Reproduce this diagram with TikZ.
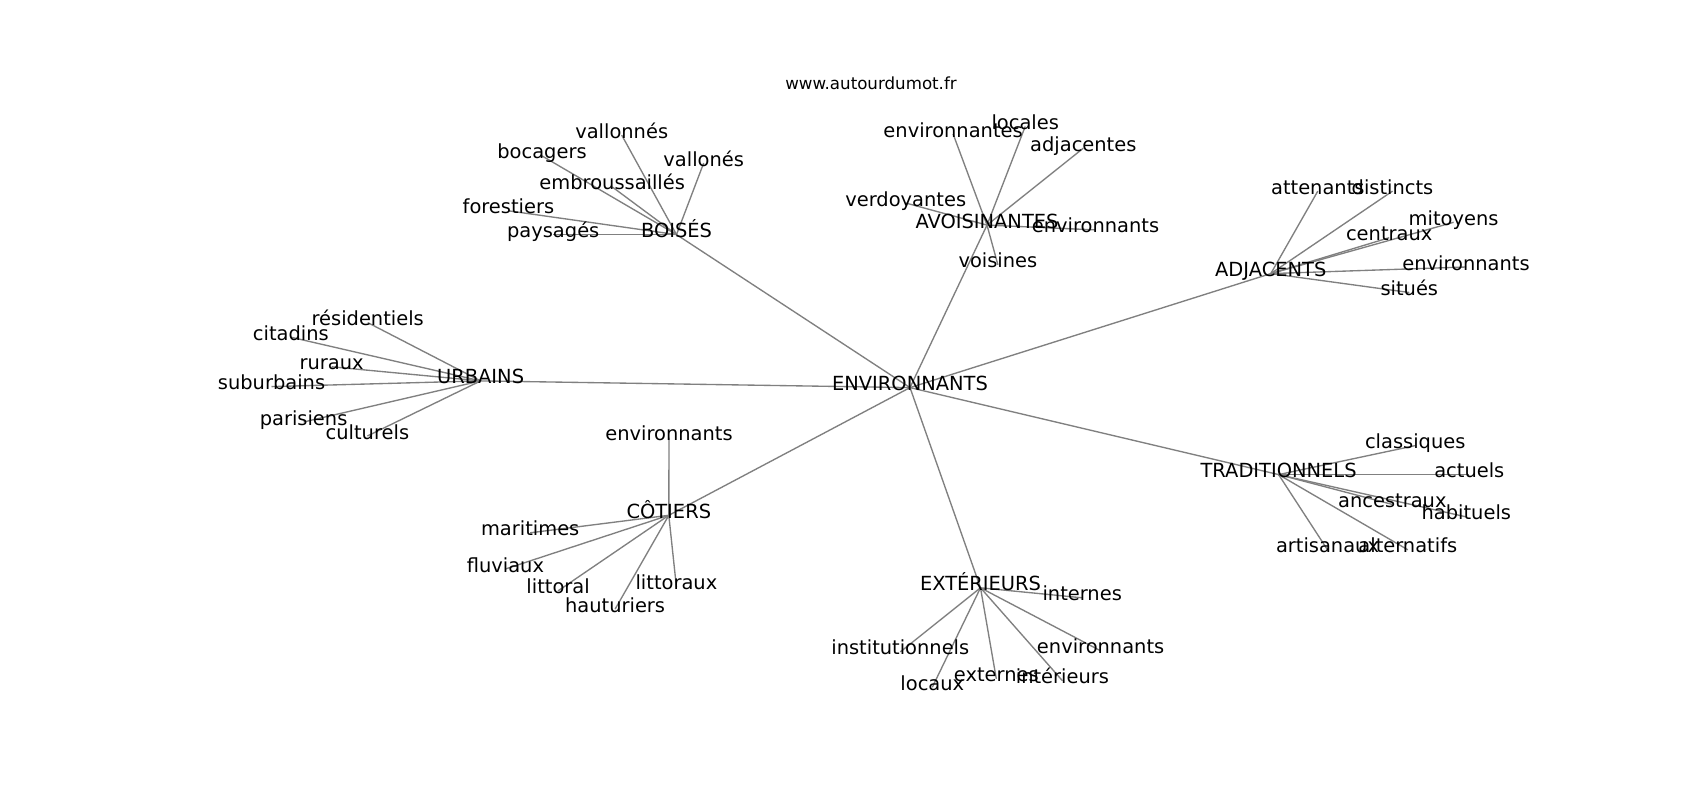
\documentclass[tikz,border=0pt]{standalone}
\usepackage{fontspec}
\setmainfont{DejaVu Sans}
\usetikzlibrary{backgrounds}
\begin{document}
\begin{tikzpicture}[x=1pt,y=-1pt,
  lbl/.style={inner sep=0pt, anchor=center, text height=0.8em, text depth=0.2em, font=\fontsize{19.44}{23}\selectfont},
  ttl/.style={inner sep=0pt, anchor=center, text height=0.8em, text depth=0.2em, font=\fontsize{16.67}{20}\selectfont},
  edge/.style={draw=gray, line width=1.35pt}]
\useasboundingbox (0,0) rectangle (1700,800);
\begin{scope}[yshift=-3.6pt]
\node[ttl] (title) at (871,82.5) {www.autourdumot.fr};
% hubs
\node[lbl] (env) at (910,384) {ENVIRONNANTS};
\node[lbl] (boi) at (676.5,231) {BOISÉS};
\node[lbl] (avo) at (987,221.5) {AVOISINANTES};
\node[lbl] (adj) at (1270.8,270) {ADJACENTS};
\node[lbl] (urb) at (480.6,377.3) {URBAINS};
\node[lbl] (tra) at (1278.6,471) {TRADITIONNELS};
\node[lbl] (cot) at (668.8,511.7) {CÔTIERS};
\node[lbl] (ext) at (980.5,584.2) {EXTÉRIEURS};
% BOISES leaves
\node[lbl] (b1) at (621.7,131.5) {vallonnés};
\node[lbl] (b2) at (542,152.3) {bocagers};
\node[lbl] (b3) at (703.7,159.4) {vallonés};
\node[lbl] (b4) at (612.2,183.3) {embroussaillés};
\node[lbl] (b5) at (508.4,207.2) {forestiers};
\node[lbl] (b6) at (553.2,231) {paysagés};
% AVOISINANTES leaves
\node[lbl] (a1) at (953.1,130.4) {environnantes};
\node[lbl] (a2) at (1025.2,122.9) {locales};
\node[lbl] (a3) at (1083.3,144.6) {adjacentes};
\node[lbl] (a4) at (905.7,199.4) {verdoyantes};
\node[lbl] (a5) at (1095.5,226.3) {environnants};
\node[lbl] (a6) at (997.9,261.2) {voisines};
% ADJACENTS leaves
\node[lbl] (d1) at (1317.8,187.5) {attenants};
\node[lbl] (d2) at (1392.5,187.5) {distincts};
\node[lbl] (d3) at (1453.6,218.7) {mitoyens};
\node[lbl] (d4) at (1389.2,234.1) {centraux};
\node[lbl] (d5) at (1466,263.4) {environnants};
\node[lbl] (d6) at (1409.3,288.9) {situés};
% URBAINS leaves
\node[lbl] (u1) at (367.7,319) {résidentiels};
\node[lbl] (u2) at (290.9,333.6) {citadins};
\node[lbl] (u3) at (331.7,363.2) {ruraux};
\node[lbl] (u4) at (271.5,383) {suburbains};
\node[lbl] (u5) at (303.6,418.4) {parisiens};
\node[lbl] (u6) at (367.4,432.4) {culturels};
% TRADITIONNELS leaves
\node[lbl] (t1) at (1415.2,442) {classiques};
\node[lbl] (t2) at (1469.3,471) {actuels};
\node[lbl] (t3) at (1392.3,500.8) {ancestraux};
\node[lbl] (t4) at (1466.3,513.3) {habituels};
\node[lbl] (t5) at (1327.5,546.2) {artisanaux};
\node[lbl] (t6) at (1407.8,546.2) {alternatifs};
% COTIERS leaves
\node[lbl] (c1) at (669,434) {environnants};
\node[lbl] (c2) at (530.2,529.2) {maritimes};
\node[lbl] (c3) at (505.4,565.4) {fluviaux};
\node[lbl] (c4) at (558.1,587.2) {littoral};
\node[lbl] (c5) at (615.1,605.5) {hauturiers};
\node[lbl] (c6) at (676.4,583.3) {littoraux};
% EXTERIEURS leaves
\node[lbl] (e1) at (1082.2,594.2) {internes};
\node[lbl] (e2) at (900.3,648.3) {institutionnels};
\node[lbl] (e3) at (1100.6,647.2) {environnants};
\node[lbl] (e4) at (932.3,683.6) {locaux};
\node[lbl] (e5) at (996.3,675.2) {externes};
\node[lbl] (e6) at (1062.4,677.1) {intérieurs};
\end{scope}
\begin{pgfonlayer}{background}
\fill[white] (0,0) rectangle (1700,800);
\foreach \h in {boi,avo,adj,urb,tra,cot,ext} \draw[edge] (env.center) -- (\h.center);
\foreach \l in {b1,b2,b3,b4,b5,b6} \draw[edge] (boi.center) -- (\l.center);
\foreach \l in {a1,a2,a3,a4,a5,a6} \draw[edge] (avo.center) -- (\l.center);
\foreach \l in {d1,d2,d3,d4,d5,d6} \draw[edge] (adj.center) -- (\l.center);
\foreach \l in {u1,u2,u3,u4,u5,u6} \draw[edge] (urb.center) -- (\l.center);
\foreach \l in {t1,t2,t3,t4,t5,t6} \draw[edge] (tra.center) -- (\l.center);
\foreach \l in {c1,c2,c3,c4,c5,c6} \draw[edge] (cot.center) -- (\l.center);
\foreach \l in {e1,e2,e3,e4,e5,e6} \draw[edge] (ext.center) -- (\l.center);
\end{pgfonlayer}
\end{tikzpicture}
\end{document}
